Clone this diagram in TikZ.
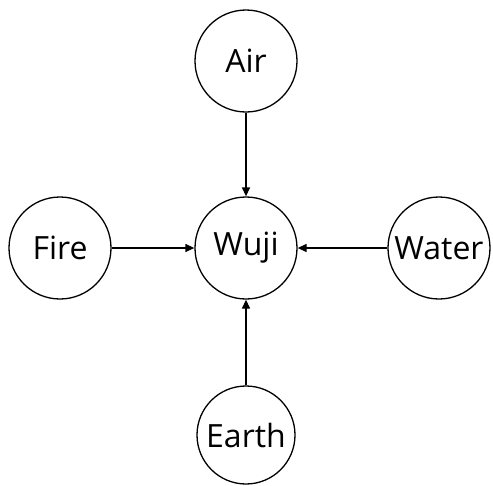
\documentclass[tikz,border=0pt]{standalone}
\usepackage{fontspec}
\setmainfont{Open Sans}
\usetikzlibrary{arrows.meta}
\begin{document}
\begin{tikzpicture}[x=1pt,y=-1pt,
  elem/.style={draw, circle, line width=1.3pt, minimum size=102pt, inner sep=0pt, font=\fontsize{32}{36}\selectfont},
  conn/.style={line width=1.3pt, -{Triangle[length=9pt,width=8pt]}}]
\useasboundingbox (0,0) rectangle (493,485);
\node[elem] (air) at (246,61) {Air};
\node[elem] (wuji) at (246,248) {Wuji};
\node[elem] (fire) at (60,248) {Fire};
\node[elem] (water) at (439,248) {Water};
\node[elem, minimum size=98pt] (earth) at (246,435) {Earth};
\draw[conn] (air) -- (wuji);
\draw[conn] (fire) -- (wuji);
\draw[conn] (water) -- (wuji);
\draw[conn] (earth) -- (wuji);
\end{tikzpicture}
\end{document}
